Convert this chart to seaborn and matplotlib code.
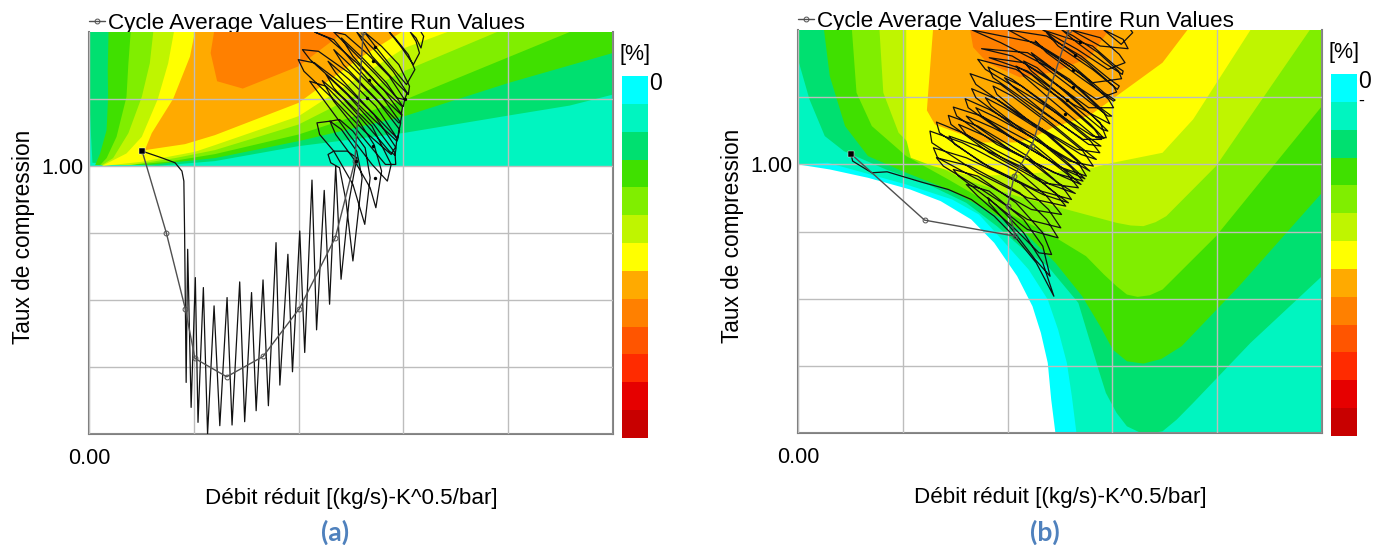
# --- Compressor map: efficiency bands + operating points, panels (a) and (b) ---

import numpy as np
import pandas as pd
import seaborn as sns
import matplotlib.pyplot as plt
from matplotlib.colors import ListedColormap

# ========= 1) DATA =========
# map units: reduced flow 0-1370, pressure ratio 0-1208 (805 = ratio 1.00)
X_MAX = 1370
Y_MAX = 1208
X_GRID = [0, 274, 548, 822, 1096, 1370]
Y_GRID = [0, 201, 403, 604, 805, 1007, 1208]
Y_LABELS = ["", "", "", "", "1.00", "", ""]
X_LABELS = ["0.00", "", "", "", "", ""]

BAND_COLORS = ["#00FFFF", "#00F5C0", "#00E070", "#40E000", "#80EE00", "#BFF500", "#FFFF00",
               "#FFAA00", "#FF8000", "#FF5500", "#FF2B00", "#E60000", "#C80000"]

# (a) one outline per band, low to high, each painted over the one before
A_AQUA = [(0, 805), (1370, 805), (1370, 1208), (0, 1208)]
A_GREEN = [(0, 1208), (0, 1034), (5, 904), (9, 815), (180, 806), (329, 820), (548, 865), (825, 905),
           (1097, 957), (1257, 987), (1370, 1020), (1370, 1208)]
A_GREEN2 = [(51, 1208), (49, 1094), (50, 1013), (46, 913), (29, 843), (16, 808), (160, 809), (329, 829),
            (548, 880), (825, 955), (1097, 1055), (1370, 1145), (1370, 1208)]
A_LIME = [(109, 1208), (103, 1114), (98, 1013), (72, 893), (46, 829), (29, 808), (120, 810), (207, 818),
          (329, 841), (548, 900), (825, 1004), (1257, 1208)]
A_LIME2 = [(168, 1208), (159, 1114), (138, 1013), (103, 904), (63, 829), (34, 808), (107, 808), (225, 829),
           (329, 853), (548, 930), (825, 1091), (1067, 1208)]
A_YELLOW = [(222, 1208), (207, 1114), (180, 1007), (138, 893), (98, 843), (38, 808), (33, 805), (138, 818),
            (277, 848), (329, 868), (548, 955), (825, 1160), (937, 1208)]
A_ORANGE = [(277, 1208), (264, 1134), (220, 1007), (164, 904), (146, 853), (251, 871), (329, 898),
            (548, 995), (708, 1130), (818, 1208)]
A_ORANGE2 = [(327, 1208), (318, 1145), (335, 1060), (402, 1038), (548, 1105), (617, 1165), (667, 1208)]
A_BANDS = [(A_AQUA, 1), (A_GREEN, 2), (A_GREEN2, 3), (A_LIME, 4), (A_LIME2, 5), (A_YELLOW, 6),
           (A_ORANGE, 7), (A_ORANGE2, 8)]

A_RUN = [(139, 850), (190, 830), (225, 815), (243, 790), (248, 760), (250, 600), (254, 155), (258, 555),
         (267, 80), (278, 470), (285, 35), (299, 440), (310, 0), (327, 385), (342, 25), (361, 410), (374, 27),
         (394, 457), (407, 37), (425, 425), (437, 70), (455, 463), (469, 85), (489, 575), (499, 147),
         (520, 540), (532, 187), (551, 610), (564, 245), (583, 763), (595, 313), (615, 732), (629, 390),
         (645, 805), (659, 465),
         (680, 700), (700, 830), (675, 850), (640, 850), (625, 840), (632, 815), (655, 800), (672, 700), (690, 520),
         (714, 770), (700, 850), (660, 915), (630, 940), (596, 935), (603, 900), (640, 850), (690, 750), (721, 630),
         (735, 770), (722, 860), (690, 910), (655, 945), (630, 940), (645, 900), (690, 830), (735, 740), (750, 680),
         (765, 790), (745, 870), (700, 950), (620, 1045), (577, 1060), (600, 1025), (680, 900), (740, 810), (780, 760),
         (790, 810), (740, 925), (670, 1005), (610, 1062), (640, 1000), (710, 900), (775, 810), (802, 810),
         (800, 845), (745, 930), (675, 1020), (620, 1080), (640, 1040), (710, 950), (785, 850), (800, 838),
         (803, 860), (745, 960), (670, 1045), (590, 1115), (547, 1125), (562, 1090), (640, 1005), (720, 910),
         (790, 840), (803, 865),
         (805, 890), (750, 985), (680, 1065), (625, 1120), (645, 1085), (725, 985), (800, 895), (807, 885),
         (812, 915), (755, 1000), (680, 1085), (600, 1150), (558, 1155), (578, 1125), (660, 1040), (740, 950),
         (805, 880), (810, 910),
         (815, 935), (765, 1015), (695, 1095), (640, 1155), (665, 1110), (740, 1020), (810, 935), (814, 935),
         (818, 960), (770, 1035), (700, 1115), (625, 1190), (590, 1208), (640, 1185), (710, 1090), (770, 1010),
         (816, 960),
         (820, 985), (778, 1055), (715, 1130), (660, 1190), (690, 1135), (760, 1045), (818, 985), (822, 985),
         (825, 1005), (785, 1075), (730, 1140), (670, 1200), (640, 1208), (690, 1150), (750, 1080), (805, 1010),
         (825, 1005),
         (832, 1025), (795, 1090), (750, 1150), (700, 1208), (740, 1135), (800, 1060), (835, 1020), (836, 1030),
         (838, 1045), (810, 1110), (765, 1165), (720, 1208), (745, 1170), (790, 1105), (830, 1050),
         (852, 1095), (835, 1140), (800, 1190), (785, 1208), (815, 1165), (848, 1110),
         (864, 1145), (855, 1180), (840, 1208), (855, 1190), (868, 1160), (875, 1195), (868, 1208)]
A_CYCLE = [(139, 850), (202, 605), (252, 375), (277, 227), (360, 172), (455, 233), (550, 377), (644, 590),
           (695, 820), (717, 1208)]
A_HOOKS = [(747, 1163), (742, 1120), (732, 1063), (727, 1010), (742, 865), (697, 820), (749, 770), (825, 1007)]

# (b)
B_CYAN = [(0, 805), (83, 790), (183, 765), (293, 730), (373, 695), (453, 640), (513, 570), (573, 470),
          (593, 425), (613, 380), (635, 300), (653, 210), (662, 100), (673, 0), (1370, 0), (1370, 1208), (0, 1208)]
B_AQUA = [(0, 805), (78, 810), (283, 745), (403, 700), (473, 655), (533, 580), (603, 490), (628, 445), (653, 400),
          (680, 310), (703, 210), (716, 110), (728, 0), (1370, 0), (1370, 1208), (0, 1208)]
B_GREEN = [(0, 1120), (30, 1000), (70, 890), (120, 845), (230, 790), (340, 745), (440, 690), (520, 620),
           (590, 550), (653, 500), (733, 390), (783, 200), (805, 120), (833, 60), (860, 20), (893, 2), (925, 0),
           (953, 5), (990, 40), (1033, 90), (1183, 270), (1370, 470), (1370, 1208), (0, 1208)]
B_GREEN2 = [(68, 1208), (83, 1070), (123, 920), (183, 830), (283, 780), (393, 730), (493, 670), (593, 600),
            (673, 510), (743, 410), (790, 320), (823, 250), (860, 215), (903, 208), (950, 222), (1003, 260),
            (1153, 440), (1370, 720), (1370, 1208)]
B_LIME = [(141, 1208), (153, 1020), (193, 920), (283, 830), (393, 760), (513, 680), (653, 600), (753, 530),
          (800, 475), (833, 440), (860, 415), (888, 408), (920, 413), (953, 430), (1093, 590), (1370, 980),
          (1370, 1208)]
B_LIME2 = [(213, 1208), (223, 1020), (263, 900), (333, 820), (433, 760), (573, 710), (703, 670), (833, 630),
           (870, 622), (903, 620), (935, 632), (963, 650), (1093, 800), (1338, 1208)]
B_YELLOW = [(283, 1208), (283, 1000), (283, 880), (295, 825), (353, 800), (453, 770), (573, 775), (753, 790),
            (823, 810), (953, 840), (1033, 940), (1183, 1208)]
B_ORANGE = [(353, 1208), (340, 1015), (337, 967), (358, 925), (484, 871), (573, 871), (615, 886), (667, 916),
            (763, 952), (833, 1010), (953, 1110), (1018, 1208)]
B_ORANGE2 = [(450, 1208), (458, 1156), (494, 1111), (580, 1066), (667, 1081), (763, 1126), (813, 1208)]
B_BANDS = [(B_CYAN, 0), (B_AQUA, 1), (B_GREEN, 2), (B_GREEN2, 3), (B_LIME, 4), (B_LIME2, 5), (B_YELLOW, 6),
           (B_ORANGE, 7), (B_ORANGE2, 8)]

B_RUN = [(138, 837), (143, 815), (193, 780), (233, 783), (323, 752), (393, 730), (453, 700), (513, 650),
         (573, 580), (623, 510), (669, 410),
         (640, 510), (590, 600), (540, 660), (497, 705), (500, 690), (560, 610), (620, 520), (659, 470),
         (640, 560), (590, 640), (500, 725), (440, 745), (470, 710), (560, 620), (630, 540), (663, 535),
         (640, 600), (570, 690), (470, 770), (406, 790), (420, 770), (500, 700), (600, 610), (680, 585),
         (650, 640), (580, 720), (450, 800), (362, 825), (380, 800), (480, 730), (600, 640), (687, 615),
         (655, 670), (580, 750), (440, 825), (354, 855), (365, 825), (470, 760), (610, 670), (689, 655),
         (650, 710), (580, 780), (430, 870), (345, 905), (350, 870), (470, 780), (600, 705), (700, 680),
         (672, 720), (590, 795), (470, 860), (395, 890), (410, 865), (510, 790), (640, 715), (707, 690),
         (660, 730), (580, 810), (430, 900), (362, 932), (370, 900), (480, 810), (620, 730), (715, 700),
         (690, 740), (600, 820), (490, 890), (420, 925), (440, 895), (540, 820), (660, 745), (725, 718),
         (680, 750), (600, 830), (470, 920), (393, 952), (400, 925), (500, 840), (640, 750), (733, 735),
         (705, 775), (620, 850), (510, 915), (440, 950), (460, 925), (560, 845), (690, 770), (740, 745),
         (695, 790), (610, 870), (480, 950), (406, 977), (415, 950), (520, 865), (670, 780), (745, 755),
         (715, 795), (630, 875), (520, 945), (465, 975), (480, 950), (580, 870), (705, 785), (750, 762),
         (705, 810), (620, 890), (500, 970), (437, 1002), (445, 975), (550, 890), (690, 795), (754, 770),
         (730, 815), (650, 895), (540, 975), (490, 1005), (505, 980), (600, 895), (725, 810), (763, 785),
         (720, 830), (640, 910), (520, 1000), (454, 1032), (465, 1005), (570, 915), (710, 815), (772, 800),
         (745, 845), (665, 920), (560, 1010), (510, 1040), (520, 1015), (615, 925), (740, 835), (780, 820),
         (735, 860), (650, 940), (530, 1045), (450, 1077), (465, 1045), (580, 950), (730, 850), (789, 840),
         (765, 875), (685, 950), (585, 1040), (540, 1065), (560, 1040), (640, 965), (760, 865), (792, 860),
         (755, 890), (670, 970), (560, 1060), (497, 1097), (510, 1065), (610, 985), (745, 880), (794, 880),
         (775, 910), (700, 985), (610, 1075), (570, 1100), (590, 1070), (660, 1000), (780, 885), (800, 883),
         (765, 925), (690, 1000), (570, 1090), (470, 1120), (490, 1090), (620, 1000), (770, 890), (806, 885),
         (790, 930), (715, 1005), (625, 1095), (590, 1115), (610, 1085), (690, 1010), (795, 910), (810, 905),
         (775, 945), (700, 1025), (590, 1110), (500, 1125), (600, 1085), (720, 985), (815, 927),
         (800, 960), (730, 1035), (640, 1115), (610, 1140), (630, 1110), (710, 1040), (810, 950), (820, 950),
         (790, 975), (710, 1060), (600, 1140), (480, 1152), (560, 1130), (640, 1075), (760, 975), (825, 975),
         (812, 1000), (735, 1080), (650, 1145), (620, 1175), (650, 1140), (745, 1060), (825, 995), (829, 998),
         (800, 1020), (720, 1100), (620, 1170), (455, 1208), (530, 1170), (650, 1100), (780, 1000), (833, 1022),
         (825, 1040), (755, 1110), (675, 1175), (650, 1200), (680, 1160), (770, 1090), (835, 1030), (840, 1040),
         (815, 1060), (740, 1130), (650, 1190), (550, 1208), (660, 1140), (770, 1050), (846, 1062),
         (838, 1085), (785, 1140), (720, 1190), (690, 1208), (730, 1170), (800, 1110), (848, 1075), (850, 1085),
         (830, 1100), (770, 1160), (640, 1208), (730, 1150), (810, 1090), (855, 1110),
         (840, 1135), (790, 1185), (715, 1208), (790, 1160), (863, 1152),
         (850, 1180), (800, 1208), (845, 1165), (875, 1200), (870, 1208)]
B_CYCLE = [(138, 837), (331, 638), (568, 590), (548, 680), (565, 770), (611, 860), (708, 1208)]
B_HOOKS = [(737, 1172), (724, 1133), (719, 1088), (719, 1037), (703, 998), (698, 956)]

W, H = 1384, 545


# ========= 2) DRAW =========
def px_axes(fig, left, top, right, bottom):
    return fig.add_axes([left / W, 1 - bottom / H, (right - left) / W, (bottom - top) / H])


def draw_panel(fig, box, bar_box, bands, run, cycle, hooks, letter, letter_x, legend_y):
    ax = px_axes(fig, *box)
    for outline, color_idx in bands:
        xs, ys = zip(*outline)
        ax.fill(xs, ys, color=BAND_COLORS[color_idx], lw=0, zorder=1)

    ax.set_xlim(0, X_MAX)
    ax.set_ylim(0, Y_MAX)
    ax.set_xticks(X_GRID, X_LABELS, fontsize=15.5)
    ax.set_yticks(Y_GRID, Y_LABELS, fontsize=15.5)
    ax.tick_params(axis="x", length=0, pad=10)
    ax.tick_params(axis="y", length=4, width=1, direction="in", pad=4, color="black")
    ax.grid(True, color="#BDBDBD", lw=1)
    ax.get_ygridlines()[-1].set_visible(False)
    ax.set_axisbelow(False)
    for gl in ax.get_xgridlines() + ax.get_ygridlines():
        gl.set_zorder(2)
    for name, sp in ax.spines.items():
        sp.set_color("#808080")
        sp.set_linewidth(1.5)
    ax.spines["top"].set_visible(False)

    df_cycle = pd.DataFrame(cycle, columns=["flow", "ratio"])
    df_run = pd.DataFrame(run, columns=["flow", "ratio"])
    df_hooks = pd.DataFrame(hooks, columns=["flow", "ratio"])
    sns.lineplot(data=df_cycle, x="flow", y="ratio", sort=False, estimator=None, color="#505050", lw=1,
                 marker="o", ms=3.5, mfc="none", mec="#505050", mew=0.7, label="Cycle Average Values",
                 zorder=4, ax=ax)
    sns.lineplot(data=df_run, x="flow", y="ratio", sort=False, estimator=None, color="#111111", lw=0.9,
                 solid_joinstyle="round", label="Entire Run Values", zorder=3, ax=ax)
    sns.scatterplot(x=[run[0][0]], y=[run[0][1]], marker="s", s=14, color="black", zorder=5, ax=ax, legend=False)
    sns.scatterplot(data=df_hooks, x="flow", y="ratio", s=6, color="black", lw=0, zorder=5, ax=ax, legend=False)

    ax.set_xlabel("Débit réduit [(kg/s)-K^0.5/bar]", fontsize=16.1)
    ax.set_ylabel("Taux de compression", fontsize=16.3)
    ax.xaxis.set_label_coords(0.5, -0.135)
    ax.yaxis.set_label_coords(-0.104, 0.49)

    # figure legend sits behind the axes so the map cuts the descenders off
    handles, labels = ax.get_legend_handles_labels()
    ax.get_legend().remove()
    leg = fig.legend(handles, labels, ncols=2, loc="lower left", bbox_to_anchor=(box[0] / W, 1 - legend_y / H),
                     frameon=False, fontsize=16.2, handlelength=0.7, handletextpad=0.15, columnspacing=-0.03,
                     borderaxespad=0, borderpad=0)
    leg.set_zorder(-1)

    cax = px_axes(fig, *bar_box)
    sns.heatmap(np.arange(len(BAND_COLORS)).reshape(-1, 1), cmap=ListedColormap(BAND_COLORS), cbar=False,
                xticklabels=False, yticklabels=False, ax=cax)
    cax.text(0.5, 1.03, "[%]", transform=cax.transAxes, ha="center", va="bottom", fontsize=15.5)
    cax.text(1.04, 0.98, "0", transform=cax.transAxes, ha="left", va="center", fontsize=16.5)

    fig.text(letter_x / W, 1 - 532 / H, letter, color="#4F81BD", fontsize=19, fontweight="bold",
             family="Lato", ha="center", va="center")
    return ax, cax


sns.set_style("white")
plt.rcParams["font.family"] = ["Liberation Sans", "DejaVu Sans"]
plt.rcParams.update({"text.color": "black", "axes.labelcolor": "black",
                     "xtick.labelcolor": "black", "ytick.labelcolor": "black"})

fig = plt.figure(figsize=(W / 100, H / 100), dpi=100)
draw_panel(fig, (89, 32, 613, 434), (622, 76, 648, 438), A_BANDS, A_RUN, A_CYCLE, A_HOOKS, "(a)", 335, 34)
_, cax_b = draw_panel(fig, (798, 30, 1322, 433), (1331, 74, 1357, 436), B_BANDS, B_RUN, B_CYCLE, B_HOOKS,
                      "(b)", 1045, 32)
cax_b.text(1.04, 0.925, "-", transform=cax_b.transAxes, ha="left", va="center", fontsize=13)

fig.savefig("out.png", dpi=100)
